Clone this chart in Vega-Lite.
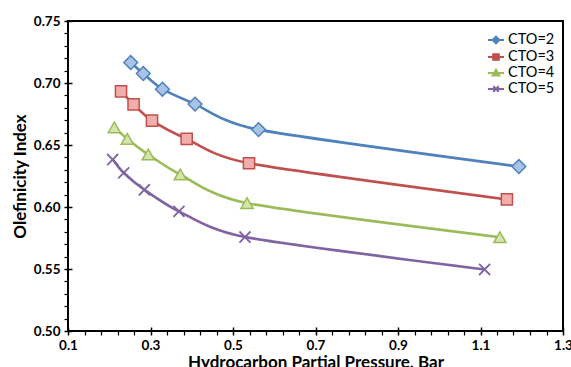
{
  "$schema": "https://vega.github.io/schema/vega-lite/v6.json",
  "autosize": "none",
  "width": 495,
  "height": 310,
  "padding": {"left": 68, "top": 21, "right": 8, "bottom": 36},
  "background": "white",
  "config": {
    "font": "Lato",
    "view": {"stroke": "black", "strokeWidth": 2},
    "axis": {"grid": false, "domain": false, "tickColor": "black", "labelColor": "black", "titleColor": "black"},
    "point": {"filled": true, "strokeWidth": 1.5, "opacity": 1}
  },
  "data": {"values": [
    {"series": "CTO=2", "x": 0.252, "y": 0.7165},
    {"series": "CTO=2", "x": 0.2825, "y": 0.7076},
    {"series": "CTO=2", "x": 0.329, "y": 0.695},
    {"series": "CTO=2", "x": 0.408, "y": 0.683},
    {"series": "CTO=2", "x": 0.562, "y": 0.6624},
    {"series": "CTO=2", "x": 1.193, "y": 0.6326},
    {"series": "CTO=3", "x": 0.2285, "y": 0.6932},
    {"series": "CTO=3", "x": 0.259, "y": 0.6827},
    {"series": "CTO=3", "x": 0.3036, "y": 0.6696},
    {"series": "CTO=3", "x": 0.3877, "y": 0.6549},
    {"series": "CTO=3", "x": 0.5388, "y": 0.6353},
    {"series": "CTO=3", "x": 1.164, "y": 0.6061},
    {"series": "CTO=4", "x": 0.2123, "y": 0.6642},
    {"series": "CTO=4", "x": 0.2438, "y": 0.6549},
    {"series": "CTO=4", "x": 0.2947, "y": 0.6423},
    {"series": "CTO=4", "x": 0.3723, "y": 0.6262},
    {"series": "CTO=4", "x": 0.534, "y": 0.6031},
    {"series": "CTO=4", "x": 1.147, "y": 0.5756},
    {"series": "CTO=5", "x": 0.2083, "y": 0.6383},
    {"series": "CTO=5", "x": 0.235, "y": 0.6276},
    {"series": "CTO=5", "x": 0.285, "y": 0.6139},
    {"series": "CTO=5", "x": 0.369, "y": 0.5965},
    {"series": "CTO=5", "x": 0.529, "y": 0.5758},
    {"series": "CTO=5", "x": 1.11, "y": 0.5496}
  ]},
  "resolve": {"axis": {"x": "independent", "y": "independent"}},
  "layer": [
    {
      "mark": {"type": "line", "interpolate": "cardinal", "tension": 0.3, "strokeWidth": 2.6},
      "encoding": {
        "x": {"field": "x", "type": "quantitative",
          "scale": {"domain": [0.1, 1.3], "nice": false, "zero": false},
          "axis": {"orient": "bottom", "values": [0.1, 0.3, 0.5, 0.7, 0.9, 1.1, 1.3], "format": ".1f",
            "tickSize": 4, "tickWidth": 1.5, "labelFont": "Lato", "labelFontWeight": "bold", "labelFontSize": 13.5,
            "labelPadding": 3, "labelFlush": false, "title": "Hydrocarbon Partial Pressure, Bar",
            "titleFont": "Lato", "titleFontSize": 17, "titleFontWeight": "bold", "titlePadding": 2.5}},
        "y": {"field": "y", "type": "quantitative",
          "scale": {"domain": [0.5, 0.75], "nice": false, "zero": false},
          "axis": {"orient": "left", "values": [0.5, 0.55, 0.6, 0.65, 0.7, 0.75], "format": ".2f",
            "tickSize": 4, "tickWidth": 1.5, "labelFont": "Lato", "labelFontWeight": "bold", "labelFontSize": 13.5,
            "labelPadding": 4, "labelFlush": false, "title": "Olefinicity Index",
            "titleFont": "Lato", "titleFontSize": 17, "titleFontWeight": "bold", "titlePadding": 4}},
        "color": {"field": "series", "type": "nominal",
          "scale": {"domain": ["CTO=2", "CTO=3", "CTO=4", "CTO=5"], "range": ["#4f81bd", "#c0504d", "#9bbb59", "#8064a2"]},
          "legend": {"orient": "none", "legendX": 419, "legendY": 10, "title": null,
            "labelFont": "Lato", "labelFontSize": 14.5, "labelColor": "black", "labelOffset": 3,
            "symbolSize": 256, "symbolStrokeWidth": 2, "rowPadding": 0,
            "encode": {"symbols": {"update": {
              "shape": {"signal": "datum.value === 'CTO=2' ? 'M-1,0H1M0,-0.42L0.42,0L0,0.42L-0.42,0Z' : datum.value === 'CTO=3' ? 'M-1,0H1M-0.35,-0.35H0.35V0.35H-0.35Z' : datum.value === 'CTO=4' ? 'M-1,0H1M0,-0.4L0.42,0.3H-0.42Z' : 'M-1,0H1M-0.35,-0.35L0.35,0.35M-0.35,0.35L0.35,-0.35'"},
              "fill": {"signal": "scale('color', datum.value)"},
              "stroke": {"signal": "scale('color', datum.value)"},
              "strokeWidth": {"value": 2}
            }}}}}
      }
    },
    {
      "transform": [{"filter": "datum.series === 'CTO=2'"}],
      "mark": {"type": "point", "shape": "diamond", "size": 190, "fill": "#a9c3e6", "stroke": "#4f81bd"},
      "encoding": {
        "x": {"field": "x", "type": "quantitative",
          "axis": {"orient": "bottom", "values": [0.14, 0.18, 0.22, 0.26, 0.34, 0.38, 0.42, 0.46, 0.54, 0.58, 0.62, 0.66, 0.74, 0.78, 0.82, 0.86, 0.94, 0.98, 1.02, 1.06, 1.14, 1.18, 1.22, 1.26],
            "labels": false, "title": null, "tickSize": 4, "tickWidth": 1.2}},
        "y": {"field": "y", "type": "quantitative",
          "axis": {"orient": "left", "values": [0.51, 0.52, 0.53, 0.54, 0.56, 0.57, 0.58, 0.59, 0.61, 0.62, 0.63, 0.64, 0.66, 0.67, 0.68, 0.69, 0.71, 0.72, 0.73, 0.74],
            "labels": false, "title": null, "tickSize": 4, "tickWidth": 1.2}}
      }
    },
    {
      "transform": [{"filter": "datum.series === 'CTO=3'"}],
      "mark": {"type": "point", "shape": "square", "size": 125, "fill": "#f2aeac", "stroke": "#c0504d"},
      "encoding": {
        "x": {"field": "x", "type": "quantitative",
          "axis": {"orient": "bottom", "values": [0.1, 0.3, 0.5, 0.7, 0.9, 1.1, 1.3], "labels": false, "title": null, "tickSize": -4, "tickWidth": 1.5}},
        "y": {"field": "y", "type": "quantitative",
          "axis": {"orient": "left", "values": [0.5, 0.55, 0.6, 0.65, 0.7, 0.75], "labels": false, "title": null, "tickSize": -4, "tickWidth": 1.5}}
      }
    },
    {
      "transform": [{"filter": "datum.series === 'CTO=4'"}],
      "mark": {"type": "point", "shape": "triangle-up", "size": 150, "fill": "#d3e4ad", "stroke": "#9bbb59"},
      "encoding": {
        "x": {"field": "x", "type": "quantitative", "axis": null},
        "y": {"field": "y", "type": "quantitative", "axis": null}
      }
    },
    {
      "transform": [{"filter": "datum.series === 'CTO=5'"}],
      "mark": {"type": "point", "shape": "M-0.9,-0.9L0.9,0.9M-0.9,0.9L0.9,-0.9", "size": 150, "fill": "#8064a2", "stroke": "#8064a2", "strokeWidth": 1.8},
      "encoding": {
        "x": {"field": "x", "type": "quantitative", "axis": null},
        "y": {"field": "y", "type": "quantitative", "axis": null}
      }
    }
  ]
}
